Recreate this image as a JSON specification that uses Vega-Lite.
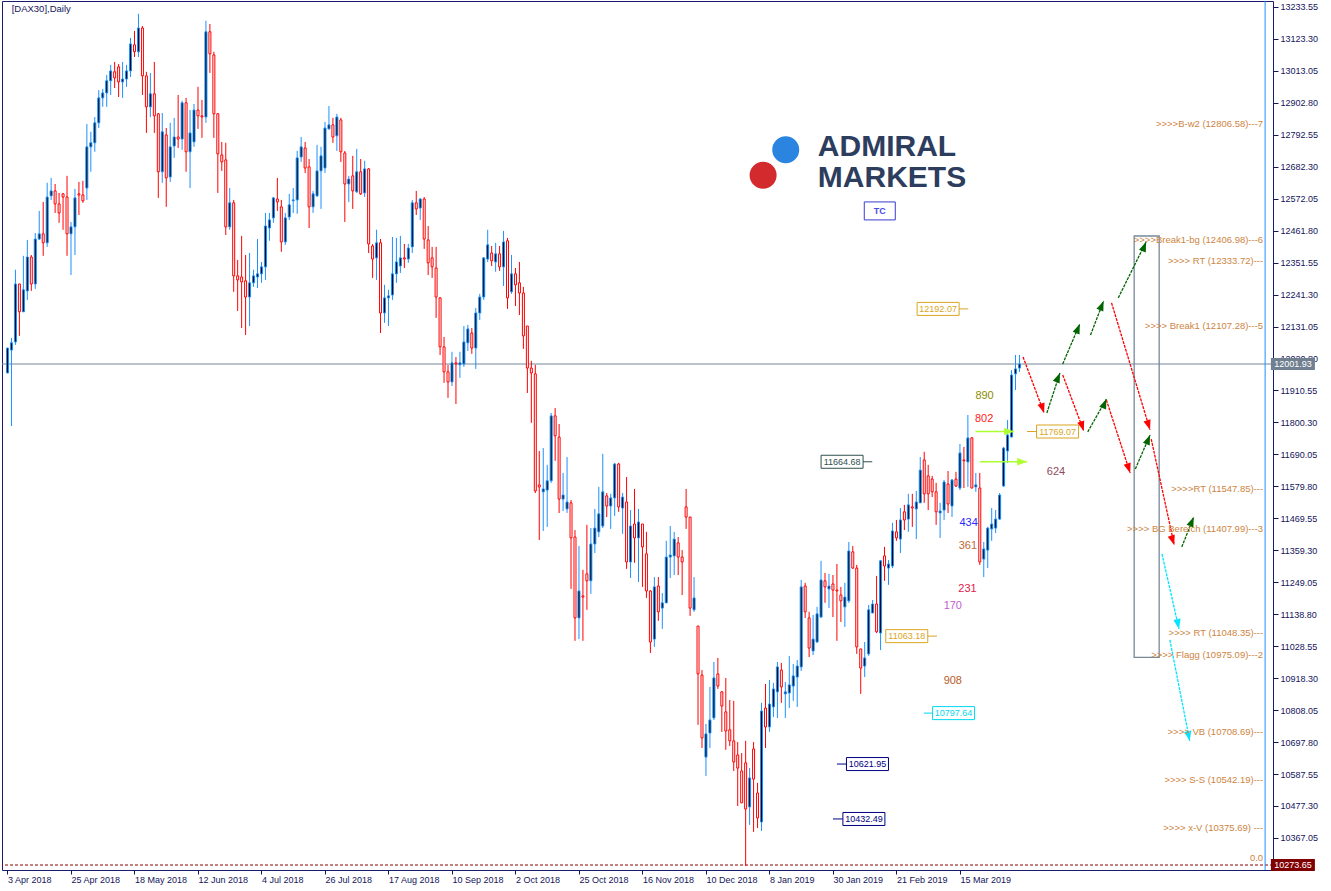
{
"$schema":"https://vega.github.io/schema/vega-lite/v6.json",
"width":1271,"height":869,
"autosize":{"type":"none"},
"padding":{"left":2,"top":1,"right":58,"bottom":21},
"background":"white",
"config":{"view":{"stroke":"#1a1a6e","strokeWidth":1},"font":"Liberation Sans","axis":{"labelOverlap":false,"labelSeparation":0},"axisY":{"labelOverlap":false}},
"resolve":{"scale":{"color":"independent","shape":"independent"}},
"datasets":{
"candles":[
{"i":0,"o":11971,"h":12057,"l":11971,"c":12057},{"i":1,"o":12050,"h":12092,"l":11788,"c":12075},{"i":2,"o":12078,"h":12327,"l":12068,"c":12278},{"i":3,"o":12278,"h":12278,"l":12099,"c":12182},{"i":4,"o":12182,"h":12375,"l":12182,"c":12258},{"i":5,"o":12254,"h":12430,"l":12223,"c":12371},{"i":6,"o":12371,"h":12378,"l":12254,"c":12278},{"i":7,"o":12278,"h":12454,"l":12261,"c":12433},{"i":8,"o":12433,"h":12530,"l":12430,"c":12451},{"i":9,"o":12451,"h":12561,"l":12375,"c":12420},
{"i":10,"o":12420,"h":12627,"l":12406,"c":12578},{"i":11,"o":12582,"h":12644,"l":12568,"c":12599},{"i":12,"o":12599,"h":12623,"l":12523,"c":12554},{"i":13,"o":12554,"h":12592,"l":12489,"c":12523},{"i":14,"o":12589,"h":12592,"l":12465,"c":12578},{"i":15,"o":12578,"h":12651,"l":12375,"c":12451},{"i":16,"o":12451,"h":12492,"l":12309,"c":12475},{"i":17,"o":12475,"h":12606,"l":12378,"c":12575},{"i":18,"o":12589,"h":12630,"l":12516,"c":12585},{"i":19,"o":12585,"h":12634,"l":12558,"c":12565},
{"i":20,"o":12609,"h":12830,"l":12568,"c":12751},{"i":21,"o":12751,"h":12803,"l":12665,"c":12765},{"i":22,"o":12765,"h":12854,"l":12734,"c":12834},{"i":23,"o":12834,"h":12947,"l":12816,"c":12920},{"i":24,"o":12920,"h":12951,"l":12889,"c":12937},{"i":25,"o":12937,"h":12999,"l":12889,"c":12979},{"i":26,"o":12979,"h":13034,"l":12930,"c":13013},{"i":27,"o":13010,"h":13044,"l":12954,"c":12989},{"i":28,"o":13027,"h":13037,"l":12923,"c":12975},{"i":29,"o":12975,"h":13044,"l":12920,"c":12985},
{"i":30,"o":12985,"h":13034,"l":12958,"c":13013},{"i":31,"o":13013,"h":13127,"l":12992,"c":13106},{"i":32,"o":13103,"h":13151,"l":13061,"c":13079},{"i":33,"o":13079,"h":13210,"l":13061,"c":13161},{"i":34,"o":13161,"h":13168,"l":12930,"c":12996},{"i":35,"o":12996,"h":13010,"l":12799,"c":12889},{"i":36,"o":12889,"h":13006,"l":12854,"c":12934},{"i":37,"o":12934,"h":13044,"l":12799,"c":12858},{"i":38,"o":12865,"h":12868,"l":12575,"c":12665},{"i":39,"o":12665,"h":12868,"l":12627,"c":12803},
{"i":40,"o":12792,"h":12816,"l":12544,"c":12644},{"i":41,"o":12647,"h":12834,"l":12630,"c":12751},{"i":42,"o":12754,"h":12851,"l":12713,"c":12785},{"i":43,"o":12785,"h":12930,"l":12747,"c":12778},{"i":44,"o":12778,"h":12910,"l":12741,"c":12903},{"i":45,"o":12903,"h":12920,"l":12665,"c":12734},{"i":46,"o":12734,"h":12878,"l":12609,"c":12799},{"i":47,"o":12768,"h":12899,"l":12751,"c":12878},{"i":48,"o":12878,"h":12958,"l":12813,"c":12858},{"i":49,"o":12858,"h":12913,"l":12782,"c":12854},
{"i":50,"o":12854,"h":13186,"l":12834,"c":13148},{"i":51,"o":13148,"h":13175,"l":13006,"c":13072},{"i":52,"o":13068,"h":13079,"l":12782,"c":12865},{"i":53,"o":12865,"h":12868,"l":12592,"c":12727},{"i":54,"o":12723,"h":12768,"l":12668,"c":12699},{"i":55,"o":12706,"h":12765,"l":12447,"c":12475},{"i":56,"o":12475,"h":12609,"l":12465,"c":12558},{"i":57,"o":12558,"h":12568,"l":12251,"c":12306},{"i":58,"o":12306,"h":12361,"l":12185,"c":12292},{"i":59,"o":12302,"h":12444,"l":12126,"c":12285},
{"i":60,"o":12289,"h":12378,"l":12102,"c":12233},{"i":61,"o":12233,"h":12385,"l":12133,"c":12282},{"i":62,"o":12282,"h":12327,"l":12268,"c":12306},{"i":63,"o":12302,"h":12433,"l":12264,"c":12313},{"i":64,"o":12313,"h":12354,"l":12282,"c":12337},{"i":65,"o":12337,"h":12523,"l":12292,"c":12478},{"i":66,"o":12471,"h":12523,"l":12427,"c":12499},{"i":67,"o":12506,"h":12578,"l":12489,"c":12575},{"i":68,"o":12571,"h":12644,"l":12530,"c":12561},{"i":69,"o":12544,"h":12568,"l":12389,"c":12423},
{"i":70,"o":12423,"h":12523,"l":12413,"c":12506},{"i":71,"o":12509,"h":12589,"l":12499,"c":12551},{"i":72,"o":12565,"h":12609,"l":12523,"c":12568},{"i":73,"o":12568,"h":12737,"l":12520,"c":12713},{"i":74,"o":12716,"h":12785,"l":12699,"c":12751},{"i":75,"o":12747,"h":12768,"l":12661,"c":12678},{"i":76,"o":12682,"h":12709,"l":12471,"c":12544},{"i":77,"o":12544,"h":12599,"l":12523,"c":12589},{"i":78,"o":12582,"h":12758,"l":12578,"c":12668},{"i":79,"o":12668,"h":12751,"l":12537,"c":12720},
{"i":80,"o":12678,"h":12837,"l":12661,"c":12816},{"i":81,"o":12813,"h":12892,"l":12810,"c":12827},{"i":82,"o":12827,"h":12851,"l":12765,"c":12785},{"i":83,"o":12789,"h":12865,"l":12737,"c":12854},{"i":84,"o":12844,"h":12851,"l":12699,"c":12734},{"i":85,"o":12730,"h":12737,"l":12492,"c":12623},{"i":86,"o":12623,"h":12651,"l":12561,"c":12640},{"i":87,"o":12651,"h":12720,"l":12537,"c":12599},{"i":88,"o":12596,"h":12744,"l":12592,"c":12665},{"i":89,"o":12665,"h":12709,"l":12585,"c":12589},
{"i":90,"o":12592,"h":12703,"l":12578,"c":12675},{"i":91,"o":12675,"h":12678,"l":12385,"c":12416},{"i":92,"o":12409,"h":12416,"l":12299,"c":12364},{"i":93,"o":12368,"h":12465,"l":12292,"c":12420},{"i":94,"o":12420,"h":12433,"l":12109,"c":12178},{"i":95,"o":12178,"h":12275,"l":12144,"c":12230},{"i":96,"o":12230,"h":12258,"l":12133,"c":12237},{"i":97,"o":12240,"h":12440,"l":12223,"c":12313},{"i":98,"o":12313,"h":12437,"l":12282,"c":12354},{"i":99,"o":12340,"h":12444,"l":12316,"c":12368},
{"i":100,"o":12368,"h":12416,"l":12333,"c":12364},{"i":101,"o":12364,"h":12416,"l":12351,"c":12402},{"i":102,"o":12406,"h":12568,"l":12385,"c":12558},{"i":103,"o":12558,"h":12599,"l":12516,"c":12537},{"i":104,"o":12540,"h":12575,"l":12499,"c":12571},{"i":105,"o":12571,"h":12578,"l":12399,"c":12433},{"i":106,"o":12430,"h":12478,"l":12309,"c":12351},{"i":107,"o":12368,"h":12406,"l":12299,"c":12337},{"i":108,"o":12333,"h":12406,"l":12161,"c":12233},{"i":109,"o":12230,"h":12233,"l":12033,"c":12061},
{"i":110,"o":12061,"h":12095,"l":11937,"c":11975},{"i":111,"o":11975,"h":11999,"l":11885,"c":11940},{"i":112,"o":11940,"h":12044,"l":11926,"c":12006},{"i":113,"o":12006,"h":12026,"l":11864,"c":12002},{"i":114,"o":11999,"h":12044,"l":11954,"c":12006},{"i":115,"o":12002,"h":12133,"l":11992,"c":12078},{"i":116,"o":12075,"h":12137,"l":12047,"c":12123},{"i":117,"o":12109,"h":12126,"l":12037,"c":12057},{"i":118,"o":12057,"h":12195,"l":11985,"c":12178},{"i":119,"o":12178,"h":12244,"l":12154,"c":12233},
{"i":120,"o":12233,"h":12371,"l":12223,"c":12368},{"i":121,"o":12364,"h":12465,"l":12354,"c":12413},{"i":122,"o":12385,"h":12409,"l":12340,"c":12358},{"i":123,"o":12354,"h":12420,"l":12320,"c":12382},{"i":124,"o":12382,"h":12409,"l":12323,"c":12337},{"i":125,"o":12337,"h":12461,"l":12271,"c":12423},{"i":126,"o":12427,"h":12437,"l":12192,"c":12230},{"i":127,"o":12251,"h":12378,"l":12244,"c":12313},{"i":128,"o":12313,"h":12333,"l":12202,"c":12275},{"i":129,"o":12282,"h":12354,"l":12171,"c":12247},
{"i":130,"o":12247,"h":12268,"l":12054,"c":12099},{"i":131,"o":12133,"h":12133,"l":11902,"c":11988},{"i":132,"o":11988,"h":12013,"l":11799,"c":11971},{"i":133,"o":11968,"h":11999,"l":11557,"c":11564},{"i":134,"o":11585,"h":11702,"l":11395,"c":11578},{"i":135,"o":11561,"h":11712,"l":11426,"c":11571},{"i":136,"o":11567,"h":11654,"l":11440,"c":11599},{"i":137,"o":11599,"h":11833,"l":11592,"c":11823},{"i":138,"o":11823,"h":11850,"l":11668,"c":11754},{"i":139,"o":11750,"h":11795,"l":11488,"c":11536},
{"i":140,"o":11536,"h":11626,"l":11495,"c":11550},{"i":141,"o":11502,"h":11681,"l":11488,"c":11526},{"i":142,"o":11523,"h":11533,"l":11226,"c":11402},{"i":143,"o":11405,"h":11429,"l":11047,"c":11126},{"i":144,"o":11126,"h":11374,"l":11053,"c":11219},{"i":145,"o":11202,"h":11292,"l":11047,"c":11198},{"i":146,"o":11278,"h":11447,"l":11154,"c":11254},{"i":147,"o":11254,"h":11436,"l":11209,"c":11381},{"i":148,"o":11381,"h":11502,"l":11350,"c":11436},{"i":149,"o":11423,"h":11578,"l":11405,"c":11485},
{"i":150,"o":11443,"h":11692,"l":11436,"c":11561},{"i":151,"o":11547,"h":11557,"l":11474,"c":11512},{"i":152,"o":11512,"h":11554,"l":11433,"c":11540},{"i":153,"o":11540,"h":11661,"l":11478,"c":11657},{"i":154,"o":11657,"h":11661,"l":11492,"c":11509},{"i":155,"o":11505,"h":11557,"l":11416,"c":11543},{"i":156,"o":11526,"h":11612,"l":11295,"c":11319},{"i":157,"o":11319,"h":11498,"l":11264,"c":11443},{"i":158,"o":11450,"h":11571,"l":11316,"c":11402},{"i":159,"o":11402,"h":11502,"l":11250,"c":11457},
{"i":160,"o":11450,"h":11450,"l":11233,"c":11371},{"i":161,"o":11347,"h":11423,"l":11195,"c":11219},{"i":162,"o":11219,"h":11222,"l":11005,"c":11043},{"i":163,"o":11053,"h":11267,"l":11026,"c":11233},{"i":164,"o":11236,"h":11267,"l":11116,"c":11147},{"i":165,"o":11160,"h":11212,"l":11088,"c":11178},{"i":166,"o":11178,"h":11392,"l":11178,"c":11336},{"i":167,"o":11336,"h":11443,"l":11264,"c":11343},{"i":168,"o":11340,"h":11423,"l":11274,"c":11398},{"i":169,"o":11385,"h":11405,"l":11274,"c":11336},
{"i":170,"o":11336,"h":11360,"l":11205,"c":11319},{"i":171,"o":11509,"h":11571,"l":11433,"c":11474},{"i":172,"o":11474,"h":11474,"l":11133,"c":11160},{"i":173,"o":11154,"h":11267,"l":11147,"c":11195},{"i":174,"o":11098,"h":11098,"l":10757,"c":10933},{"i":175,"o":10929,"h":10946,"l":10677,"c":10712},{"i":176,"o":10646,"h":10760,"l":10581,"c":10726},{"i":177,"o":10729,"h":10888,"l":10677,"c":10774},{"i":178,"o":10781,"h":10974,"l":10774,"c":10919},{"i":179,"o":10933,"h":10988,"l":10881,"c":10891},
{"i":180,"o":10871,"h":10874,"l":10733,"c":10822},{"i":181,"o":10802,"h":10919,"l":10671,"c":10736},{"i":182,"o":10740,"h":10843,"l":10684,"c":10702},{"i":183,"o":10702,"h":10840,"l":10598,"c":10629},{"i":184,"o":10653,"h":10698,"l":10477,"c":10608},{"i":185,"o":10598,"h":10660,"l":10488,"c":10488},{"i":186,"o":10626,"h":10702,"l":10270,"c":10467},{"i":187,"o":10474,"h":10608,"l":10412,"c":10574},{"i":188,"o":10674,"h":10698,"l":10388,"c":10570},{"i":189,"o":10522,"h":10557,"l":10401,"c":10436},
{"i":190,"o":10422,"h":10833,"l":10391,"c":10805},{"i":191,"o":10815,"h":10898,"l":10677,"c":10750},{"i":192,"o":10750,"h":10912,"l":10733,"c":10829},{"i":193,"o":10819,"h":10902,"l":10784,"c":10881},{"i":194,"o":10871,"h":10974,"l":10781,"c":10957},{"i":195,"o":10946,"h":10971,"l":10833,"c":10888},{"i":196,"o":10864,"h":10905,"l":10781,"c":10871},{"i":197,"o":10867,"h":10995,"l":10815,"c":10895},{"i":198,"o":10891,"h":10967,"l":10840,"c":10926},{"i":199,"o":10922,"h":10981,"l":10819,"c":10960},
{"i":200,"o":10957,"h":11257,"l":10943,"c":11233},{"i":201,"o":11236,"h":11247,"l":11126,"c":11147},{"i":202,"o":11126,"h":11147,"l":10991,"c":11022},{"i":203,"o":11012,"h":11136,"l":10998,"c":11053},{"i":204,"o":11043,"h":11164,"l":11040,"c":11140},{"i":205,"o":11129,"h":11323,"l":11126,"c":11257},{"i":206,"o":11254,"h":11281,"l":11178,"c":11233},{"i":207,"o":11226,"h":11278,"l":11160,"c":11236},{"i":208,"o":11243,"h":11274,"l":11129,"c":11222},{"i":209,"o":11222,"h":11312,"l":11047,"c":11219},
{"i":210,"o":11205,"h":11233,"l":11112,"c":11185},{"i":211,"o":11164,"h":11247,"l":11095,"c":11198},{"i":212,"o":11185,"h":11388,"l":11178,"c":11357},{"i":213,"o":11354,"h":11374,"l":11295,"c":11298},{"i":214,"o":11298,"h":11309,"l":11002,"c":11026},{"i":215,"o":11019,"h":11019,"l":10864,"c":10953},{"i":216,"o":10960,"h":11043,"l":10922,"c":10988},{"i":217,"o":11002,"h":11171,"l":10995,"c":11154},{"i":218,"o":11143,"h":11188,"l":11143,"c":11174},{"i":219,"o":11174,"h":11271,"l":11074,"c":11078},
{"i":220,"o":11074,"h":11326,"l":11015,"c":11323},{"i":221,"o":11340,"h":11371,"l":11254,"c":11305},{"i":222,"o":11298,"h":11326,"l":11240,"c":11312},{"i":223,"o":11305,"h":11454,"l":11298,"c":11426},{"i":224,"o":11423,"h":11464,"l":11392,"c":11402},{"i":225,"o":11398,"h":11505,"l":11350,"c":11464},{"i":226,"o":11492,"h":11516,"l":11429,"c":11464},{"i":227,"o":11467,"h":11554,"l":11423,"c":11516},{"i":228,"o":11509,"h":11554,"l":11440,"c":11505},{"i":229,"o":11502,"h":11564,"l":11398,"c":11526},
{"i":230,"o":11523,"h":11681,"l":11523,"c":11636},{"i":231,"o":11671,"h":11699,"l":11523,"c":11554},{"i":232,"o":11616,"h":11654,"l":11498,"c":11554},{"i":233,"o":11605,"h":11616,"l":11543,"c":11561},{"i":234,"o":11561,"h":11592,"l":11447,"c":11492},{"i":235,"o":11488,"h":11523,"l":11402,"c":11495},{"i":236,"o":11498,"h":11602,"l":11464,"c":11595},{"i":237,"o":11588,"h":11633,"l":11488,"c":11519},{"i":238,"o":11512,"h":11605,"l":11474,"c":11602},{"i":239,"o":11605,"h":11630,"l":11578,"c":11581},
{"i":240,"o":11574,"h":11726,"l":11567,"c":11695},{"i":241,"o":11671,"h":11716,"l":11574,"c":11668},{"i":242,"o":11664,"h":11826,"l":11578,"c":11747},{"i":243,"o":11747,"h":11750,"l":11574,"c":11574},{"i":244,"o":11578,"h":11626,"l":11561,"c":11585},{"i":245,"o":11574,"h":11626,"l":11309,"c":11319},{"i":246,"o":11329,"h":11388,"l":11267,"c":11364},{"i":247,"o":11360,"h":11440,"l":11298,"c":11436},{"i":248,"o":11433,"h":11505,"l":11392,"c":11450},{"i":249,"o":11436,"h":11498,"l":11419,"c":11467},
{"i":250,"o":11467,"h":11557,"l":11464,"c":11550},{"i":251,"o":11581,"h":11716,"l":11578,"c":11712},{"i":252,"o":11702,"h":11809,"l":11661,"c":11757},{"i":253,"o":11750,"h":11981,"l":11750,"c":11964},{"i":254,"o":11968,"h":12033,"l":11912,"c":11985},{"i":255,"o":11988,"h":12033,"l":11975,"c":12002}
],
"arrows":[
{"i":255.9,"p":12026,"i2":261.2,"p2":11833,"kind":"down"},
{"i":261.9,"p":11833,"i2":265.2,"p2":11971,"kind":"up"},
{"i":265.9,"p":12002,"i2":270.2,"p2":12140,"kind":"up"},
{"i":265.9,"p":11964,"i2":271.2,"p2":11771,"kind":"down"},
{"i":272.9,"p":12102,"i2":276.2,"p2":12219,"kind":"up"},
{"i":279.9,"p":12230,"i2":286.9,"p2":12423,"kind":"up"},
{"i":272.2,"p":11768,"i2":276.9,"p2":11881,"kind":"up"},
{"i":276.9,"p":11878,"i2":282.9,"p2":11626,"kind":"down"},
{"i":278.2,"p":12213,"i2":287.9,"p2":11775,"kind":"down"},
{"i":284.2,"p":11640,"i2":287.9,"p2":11757,"kind":"up"},
{"i":288.2,"p":11743,"i2":294.0,"p2":11378,"kind":"down"},
{"i":295.9,"p":11371,"i2":298.9,"p2":11474,"kind":"up"},
{"i":290.9,"p":11347,"i2":295.2,"p2":11088,"kind":"proj"},
{"i":292.9,"p":11050,"i2":297.9,"p2":10702,"kind":"proj"}
],
"marks":[
{"i":243.9,"i2":253.6,"p":11769.07},
{"i":245.0,"i2":256.9,"p":11664.68}
],
"levels":[
{"t":">>>>B-w2 (12806.58)---7","p":12806.58},
{"t":">>>>Break1-bg (12406.98)---6","p":12406.98},
{"t":">>>> RT (12333.72)---","p":12333.72},
{"t":">>>> Break1 (12107.28)---5","p":12107.28},
{"t":">>>>RT (11547.85)---","p":11547.85},
{"t":">>>> BG Bereich (11407.99)---3","p":11407.99},
{"t":">>>> RT (11048.35)---","p":11048.35},
{"t":">>>> Flagg (10975.09)---2","p":10975.09},
{"t":">>>> VB (10708.69)---","p":10708.69},
{"t":">>>> S-S (10542.19)---","p":10542.19},
{"t":">>>> x-V (10375.69) ---","p":10375.69},
{"t":"0.0","p":10273.65}
],
"tags":[
{"t":"12192.07","i":234.5,"p":12192.07,"s1":239.6,"s2":242.1,"tone":"gold"},
{"t":"11664.68","i":210.3,"p":11664.68,"s1":215.4,"s2":217.9,"tone":"slate"},
{"t":"11769.07","i":264.6,"p":11769.07,"s1":256.9,"s2":259.6,"tone":"gold"},
{"t":"11063.18","i":226.6,"p":11063.18,"s1":231.7,"s2":234.2,"tone":"gold"},
{"t":"10797.64","i":238.4,"p":10797.64,"s1":230.9,"s2":233.4,"tone":"cyan"},
{"t":"10621.95","i":216.7,"p":10621.95,"s1":209.0,"s2":211.5,"tone":"navy"},
{"t":"10432.49","i":215.8,"p":10432.49,"s1":208.0,"s2":210.5,"tone":"navy"}
],
"counts":[
{"t":"890","i":246.2,"p":11890},
{"t":"802","i":246.1,"p":11812},
{"t":"624","i":264.2,"p":11630},
{"t":"434","i":242.2,"p":11453},
{"t":"361","i":242.0,"p":11374},
{"t":"231","i":241.9,"p":11227},
{"t":"170","i":238.2,"p":11167},
{"t":"908","i":238.2,"p":10910}
],
"dots":[
{"dot":"upper","i":196.1,"p":12741},
{"dot":"lower","i":190.4,"p":12653}
],
"brand":[
{"t":"ADMIRAL","i":204.2,"p":12750},
{"t":"MARKETS","i":204.2,"p":12645}
],
"flags":[
{"t":"12001.93","p":12001.93},
{"t":"10273.65","p":10273.65}
]
},
"layer":[
{"data":{"values":[{}]},"mark":{"type":"rule","color":"#778899","strokeWidth":1},"encoding":{"y":{"datum":12001.93}}},
{"data":{"values":[{}]},"mark":{"type":"rule","color":"#8B0000","strokeWidth":1,"strokeDash":[3,2]},"encoding":{"y":{"datum":10273.65}}},
{"data":{"values":[{}]},"mark":{"type":"rule","color":"#1E90FF","strokeWidth":1},"encoding":{"x":{"datum":316.9}}},
{"data":{"values":[{"i":283.9,"i2":290.2,"p":12443.5,"p2":10990.2}]},"mark":{"type":"rect","fillOpacity":0,"stroke":"#778899","strokeWidth":1.3},"encoding":{"x":{"field":"i","type":"quantitative"},"x2":{"field":"i2"},"y":{"field":"p","type":"quantitative"},"y2":{"field":"p2"}}},
{"data":{"name":"candles"},"mark":{"type":"rule","strokeWidth":1,"clip":true},
"encoding":{
"x":{"field":"i","type":"quantitative","scale":{"domain":[-0.125,317.625],"nice":false,"zero":false},
"axis":{"orient":"bottom","title":null,"values":[0,16,32,48,64,80,96,112,128,144,160,176,192,208,224,240],"labelExpr":"['3 Apr 2018','25 Apr 2018','18 May 2018','12 Jun 2018','4 Jul 2018','26 Jul 2018','17 Aug 2018','10 Sep 2018','2 Oct 2018','25 Oct 2018','16 Nov 2018','10 Dec 2018','8 Jan 2019','30 Jan 2019','21 Feb 2019','15 Mar 2019'][round(datum.value/16)]","labelAlign":"left","labelBaseline":"top","labelFont":"Liberation Sans","labelFontSize":9,"labelColor":"#14145A","tickColor":"#14145A","tickSize":4,"labelPadding":1,"domain":false,"grid":false,"labelOverlap":false,"labelFlush":false}},
"y":{"field":"l","type":"quantitative","scale":{"domain":[10256.45,13254.15],"nice":false,"zero":false},
"axis":{"orient":"right","title":null,"values":[13233.55,13123.3,13013.05,12902.8,12792.55,12682.3,12572.05,12461.8,12351.55,12241.3,12131.05,12020.8,11910.55,11800.3,11690.05,11579.8,11469.55,11359.3,11249.05,11138.8,11028.55,10918.3,10808.05,10697.8,10587.55,10477.3,10367.05],"tickCount":27,"format":".2f","labelFont":"Liberation Sans","labelFontSize":9,"labelColor":"#14145A","tickColor":"#14145A","tickSize":5,"labelPadding":2,"labelBaseline":"middle","domain":false,"grid":false,"labelOverlap":false,"labelFlush":false}},
"y2":{"field":"h"},
"color":{"condition":{"test":"datum.c >= datum.o","value":"#1E90FF"},"value":"#FF0000"}
}},
{"data":{"name":"candles"},"mark":{"type":"bar","size":2,"strokeWidth":1,"clip":true},
"encoding":{
"x":{"field":"i","type":"quantitative"},
"y":{"field":"o","type":"quantitative"},
"y2":{"field":"c"},
"fill":{"condition":{"test":"datum.c >= datum.o","value":"#000000"},"value":"#FFFFFF"},
"stroke":{"condition":{"test":"datum.c >= datum.o","value":"#1E90FF"},"value":"#FF0000"}
}},
{"data":{"name":"arrows"},"mark":{"type":"rule","strokeWidth":1.3,"strokeDash":[3,1]},
"encoding":{
"x":{"field":"i","type":"quantitative"},"x2":{"field":"i2"},
"y":{"field":"p","type":"quantitative"},"y2":{"field":"p2"},
"color":{"field":"kind","type":"nominal","scale":{"domain":["down","up","proj"],"range":["#FF0000","#006400","#00E5FF"]},"legend":null}
}},
{"data":{"name":"arrows"},"mark":{"type":"point","filled":true,"opacity":1,"size":150,"strokeWidth":0},
"encoding":{
"x":{"field":"i2","type":"quantitative"},
"y":{"field":"p2","type":"quantitative"},
"shape":{"field":"kind","type":"nominal","scale":{"domain":["down","up","proj"],"range":["M0,0L0.076,-1.707L-1.065,-1.337Z","M0,0L-0.044,1.708L-1.156,1.258Z","M0,0L0.254,-1.69L-0.92,-1.44Z"]},"legend":null},
"color":{"field":"kind","type":"nominal","scale":{"domain":["down","up","proj"],"range":["#FF0000","#006400","#00E5FF"]},"legend":null}
}},
{"data":{"name":"marks"},"mark":{"type":"rule","color":"#ADFF2F","strokeWidth":1.5},
"encoding":{"x":{"field":"i","type":"quantitative"},"x2":{"field":"i2"},"y":{"field":"p","type":"quantitative"}}},
{"data":{"name":"marks"},"mark":{"type":"point","filled":true,"opacity":1,"size":150,"color":"#ADFF2F","shape":"M0,0L-1.6,-0.6L-1.6,0.6Z"},
"encoding":{"x":{"field":"i2","type":"quantitative"},"y":{"field":"p","type":"quantitative"}}},
{"data":{"name":"levels"},"mark":{"type":"text","align":"right","baseline":"middle","dy":-7,"fontSize":9.5,"color":"#CD853F","font":"Liberation Sans"},
"encoding":{"x":{"datum":316.4},"y":{"field":"p","type":"quantitative"},"text":{"field":"t"}}},
{"data":{"name":"tags"},"mark":{"type":"rule","strokeWidth":1},
"encoding":{"x":{"field":"s1","type":"quantitative"},"x2":{"field":"s2"},"y":{"field":"p","type":"quantitative"},
"color":{"field":"tone","type":"nominal","scale":{"domain":["gold","slate","cyan","navy"],"range":["#DAA520","#2F4F4F","#00D8F0","#000080"]},"legend":null}}},
{"data":{"name":"tags"},"mark":{"type":"point","filled":false,"opacity":1,"size":1764,"strokeWidth":1,"shape":"M-1,-0.31L1,-0.31L1,0.31L-1,0.31Z","fill":"white","fillOpacity":1},
"encoding":{"x":{"field":"i","type":"quantitative"},"y":{"field":"p","type":"quantitative"},
"color":{"field":"tone","type":"nominal","scale":{"domain":["gold","slate","cyan","navy"],"range":["#DAA520","#2F4F4F","#00D8F0","#000080"]},"legend":null}}},
{"data":{"name":"tags"},"mark":{"type":"text","align":"center","baseline":"middle","fontSize":9,"font":"Liberation Sans"},
"encoding":{"x":{"field":"i","type":"quantitative"},"y":{"field":"p","type":"quantitative"},"text":{"field":"t"},
"color":{"field":"tone","type":"nominal","scale":{"domain":["gold","slate","cyan","navy"],"range":["#DAA520","#2F4F4F","#00D8F0","#000080"]},"legend":null}}},
{"data":{"name":"counts"},"mark":{"type":"text","align":"center","baseline":"middle","fontSize":11,"font":"Liberation Sans"},
"encoding":{"x":{"field":"i","type":"quantitative"},"y":{"field":"p","type":"quantitative"},"text":{"field":"t"},
"color":{"field":"t","type":"nominal","scale":{"domain":["890","802","624","434","361","231","170","908"],"range":["#8C8C00","#FF1A1A","#8E4A5E","#2B2BFF","#C0683A","#E0204A","#C060D0","#B85C28"]},"legend":null}}},
{"data":{"name":"dots"},"mark":{"type":"point","filled":true,"opacity":1,"size":730,"shape":"circle"},
"encoding":{"x":{"field":"i","type":"quantitative"},"y":{"field":"p","type":"quantitative"},
"color":{"field":"dot","type":"nominal","scale":{"domain":["upper","lower"],"range":["#2B84E0","#D32A2E"]},"legend":null}}},
{"data":{"name":"brand"},"mark":{"type":"text","align":"left","baseline":"middle","fontSize":30,"fontWeight":"bold","font":"Liberation Sans","color":"#2C3D5E"},
"encoding":{"x":{"field":"i","type":"quantitative"},"y":{"field":"p","type":"quantitative"},"text":{"field":"t"}}},
{"data":{"values":[{"t":"TC","i":219.8,"p":12530}]},"mark":{"type":"point","filled":false,"opacity":1,"size":961,"strokeWidth":1,"color":"#3A3AD0","shape":"M-1,-0.58L1,-0.58L1,0.58L-1,0.58Z"},
"encoding":{"x":{"field":"i","type":"quantitative"},"y":{"field":"p","type":"quantitative"}}},
{"data":{"values":[{"t":"TC","i":219.8,"p":12530}]},"mark":{"type":"text","align":"center","baseline":"middle","fontSize":9,"fontWeight":"bold","color":"#4B4BE8","font":"Liberation Sans"},
"encoding":{"x":{"field":"i","type":"quantitative"},"y":{"field":"p","type":"quantitative"},"text":{"field":"t"}}},
{"data":{"values":[{"t":"[DAX30],Daily","i":1.05,"p":13225}]},"mark":{"type":"text","align":"left","baseline":"middle","fontSize":9.5,"color":"#14145A","font":"Liberation Sans"},
"encoding":{"x":{"field":"i","type":"quantitative"},"y":{"field":"p","type":"quantitative"},"text":{"field":"t"}}},
{"data":{"name":"flags"},"mark":{"type":"point","filled":true,"opacity":1,"size":1936,"strokeWidth":0,"shape":"M-1,-0.27L1,-0.27L1,0.27L-1,0.27Z"},
"encoding":{"x":{"datum":323.9},"y":{"field":"p","type":"quantitative"},
"color":{"field":"t","type":"nominal","scale":{"domain":["12001.93","10273.65"],"range":["#708090","#800000"]},"legend":null}}},
{"data":{"name":"flags"},"mark":{"type":"text","align":"center","baseline":"middle","fontSize":9,"color":"#FFFFFF","font":"Liberation Sans"},
"encoding":{"x":{"datum":323.9},"y":{"field":"p","type":"quantitative"},"text":{"field":"t"}}}
]
}
